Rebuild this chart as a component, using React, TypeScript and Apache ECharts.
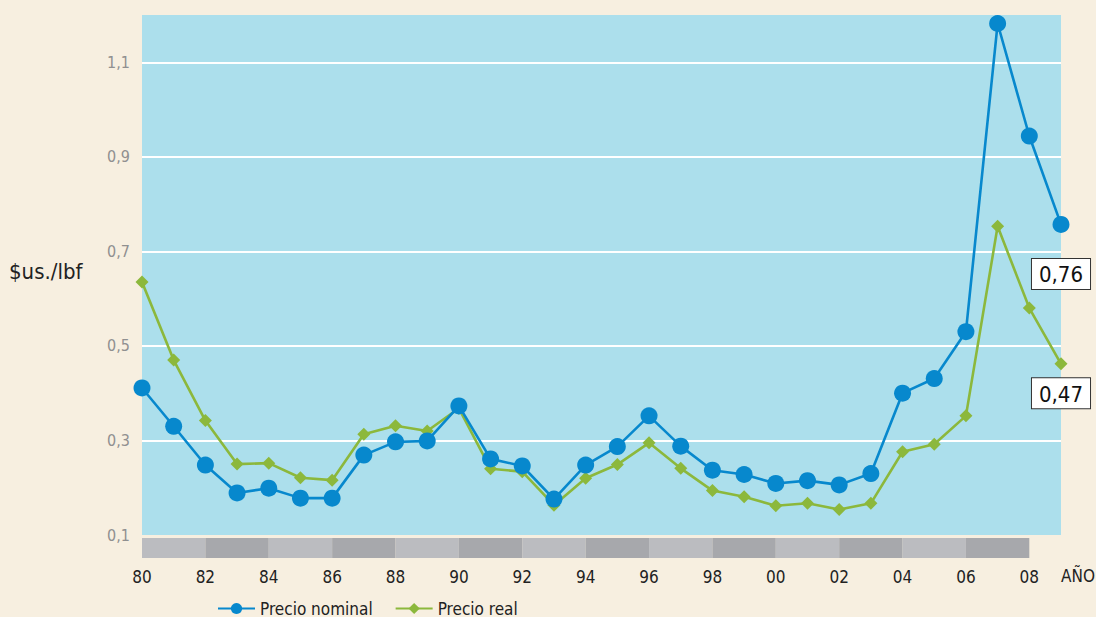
import React, { useEffect, useRef } from "react";
import * as echarts from "echarts";

const years = ["80","81","82","83","84","85","86","87","88","89","90","91","92","93","94","95","96","97","98","99","00","01","02","03","04","05","06","07","08","09"];
const nominal = [0.411,0.330,0.248,0.189,0.199,0.178,0.178,0.269,0.297,0.299,0.373,0.261,0.246,0.176,0.248,0.287,0.352,0.288,0.237,0.228,0.209,0.215,0.206,0.230,0.400,0.431,0.530,1.182,0.944,0.757];
const real = [0.635,0.470,0.342,0.250,0.252,0.221,0.216,0.313,0.331,0.320,0.368,0.240,0.234,0.163,0.220,0.249,0.295,0.241,0.194,0.181,0.162,0.167,0.154,0.167,0.276,0.292,0.352,0.753,0.580,0.462];
const endLabels = ["0,76", "0,47"];
const bandStops = ["80","82","84","86","88","90","92","94","96","98","00","02","04","06","08"];
const seriesNames = ["Precio nominal", "Precio real"];
const yName = "$us./lbf";
const xName = "AÑO";

const FONT = "'DejaVu Sans Condensed', 'Liberation Sans Narrow', 'Roboto', sans-serif";
const BLUE = "#0788cd";
const GREEN = "#8cb83c";

export default function App() {
  const ref = useRef<HTMLDivElement>(null);
  useEffect(() => {
    if (!ref.current) return;
    const chart = echarts.init(ref.current, null, { renderer: "svg" });
    const last = years.length - 1;
    const bands: any[] = [];
    for (let i = 0; i < bandStops.length - 1; i++) {
      bands.push([
        { xAxis: bandStops[i], itemStyle: { color: i % 2 === 0 ? "#bbbcc0" : "#a7a8ac" } },
        { xAxis: bandStops[i + 1] },
      ]);
    }
    const endLabel = (idx: number, dist: number) => ({
      show: true,
      position: "bottom",
      distance: dist,
      formatter: endLabels[idx],
      backgroundColor: "#ffffff",
      borderColor: "#333333",
      borderWidth: 1,
      padding: [5, 7, 3, 7],
      fontSize: 22,
      color: "#111",
      fontFamily: FONT,
    });
    const withEnd = (arr: number[], idx: number, dist: number) =>
      arr.map((v, i) => (i === last ? { value: v, label: endLabel(idx, dist) } : v));
    chart.setOption({
      animation: false,
      backgroundColor: "#f7efe0",
      textStyle: { fontFamily: FONT },
      grid: [
        { left: 142, right: 35, top: 15, bottom: 82, show: true, backgroundColor: "#acdfec", borderWidth: 0 },
        { left: 142, right: 35, top: 538, height: 20 },
      ],
      xAxis: [
        {
          gridIndex: 0, type: "category", data: years, boundaryGap: false,
          axisLine: { show: false }, axisTick: { show: false }, axisLabel: { show: false }, splitLine: { show: false },
        },
        {
          gridIndex: 1, type: "category", data: years, boundaryGap: false,
          axisLine: { show: false }, axisTick: { show: false }, splitLine: { show: false },
          axisLabel: { interval: 1, margin: 10, fontSize: 17, color: "#222", fontFamily: FONT },
        },
      ],
      yAxis: [
        {
          gridIndex: 0, type: "value", min: 0.1, max: 1.2, interval: 0.2,
          axisLine: { show: false }, axisTick: { show: false },
          splitLine: { show: true, showMinLine: false, showMaxLine: false, lineStyle: { color: "#ffffff", width: 2 } },
          axisLabel: {
            margin: 12, fontSize: 16, color: "#909090", fontFamily: FONT,
            formatter: (v: number) => (v > 1.15 ? "" : v.toFixed(1).replace(".", ",")),
          },
        },
        { gridIndex: 1, type: "value", min: 0, max: 1, show: false },
      ],
      legend: {
        left: 212, top: 595, itemWidth: 37, itemHeight: 14, itemGap: 22,
        data: seriesNames,
        textStyle: { fontSize: 17, color: "#222", fontFamily: FONT },
      },
      graphic: [
        { type: "text", left: 9, top: 260, style: { text: yName, fontSize: 22, fill: "#222", fontFamily: FONT } },
        { type: "text", left: 1061, top: 567, style: { text: xName, fontSize: 17, fill: "#222", fontFamily: FONT } },
      ],
      series: [
        {
          name: seriesNames[0], type: "line", data: withEnd(nominal, 0, 26), xAxisIndex: 0, yAxisIndex: 0,
          symbol: "circle", symbolSize: 17, showAllSymbol: true,
          lineStyle: { color: BLUE, width: 2.6 }, itemStyle: { color: BLUE },
          z: 3,
        },
        {
          name: seriesNames[1], type: "line", data: withEnd(real, 1, 8), xAxisIndex: 0, yAxisIndex: 0,
          symbol: "diamond", symbolSize: 13, showAllSymbol: true,
          lineStyle: { color: GREEN, width: 2.6 }, itemStyle: { color: GREEN },
          z: 2,
        },
        {
          type: "line", xAxisIndex: 1, yAxisIndex: 1, data: [], silent: true,
          markArea: { silent: true, data: bands },
        },
      ],
    });
    return () => chart.dispose();
  }, []);
  return <div ref={ref} style={{ width: 1096, height: 617, position: "fixed", left: 0, top: 0 }} />;
}
